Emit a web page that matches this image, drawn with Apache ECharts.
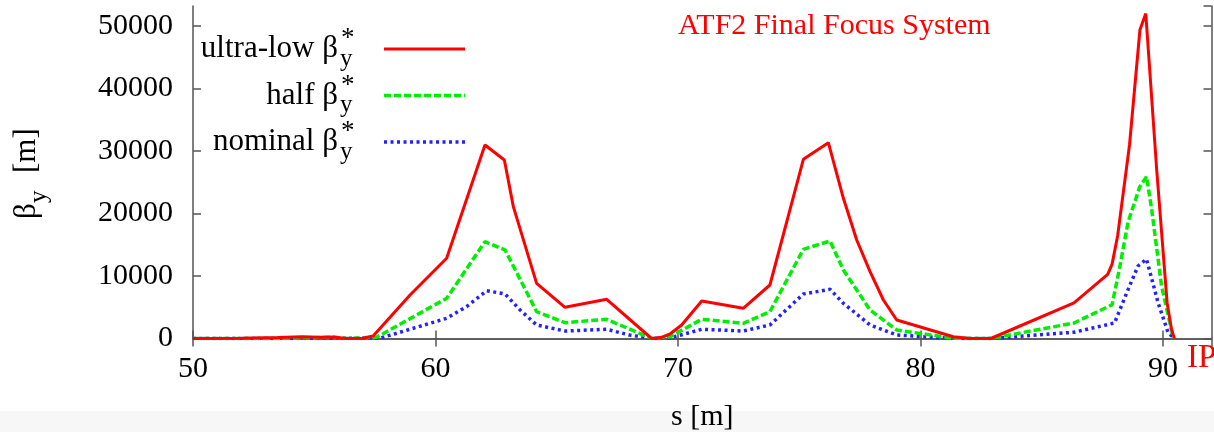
<!DOCTYPE html>
<html>
<head>
<meta charset="utf-8">
<title>ATF2 Final Focus System</title>
<script src="https://cdn.jsdelivr.net/npm/echarts@6/dist/echarts.min.js"></script>
<style>
  html, body { margin: 0; padding: 0; background: #ffffff; }
  #chart { width: 1214px; height: 432px; }
</style>
</head>
<body>
<div id="chart"></div>
<script>
// Vertical beta function along the ATF2 final focus beamline (s in metres)
const sUltra = [50.0, 52.0, 53.5, 54.5, 55.2, 55.8, 56.3, 57.0, 57.43, 58.95, 60.46, 62.04, 62.84, 63.21,
  64.17, 65.34, 67.06, 68.91, 69.3, 69.67, 70.15, 70.98, 72.69, 73.79, 75.17, 76.2, 76.82, 77.37, 77.92,
  78.47, 79.02, 81.35, 82.04, 82.9, 86.33, 87.72, 87.9, 88.13, 88.62, 89.05, 89.29, 89.74, 90.17, 90.35, 90.47];
const betaUltra = [0, 50, 150, 280, 200, 250, 0, 50, 400, 6960, 12830, 30960, 28560, 21100,
  8830, 4990, 6270, 0, 150, 720, 2160, 6000, 4830, 8560, 28670, 31330, 22430, 15760, 10690,
  6160, 2960, 290, 0, 0, 5700, 10250, 11900, 16450, 31000, 49400, 52000, 27000, 5700, 1500, 0];

const sHalf = [50.0, 53.0, 54.5, 55.8, 56.4, 57.57, 60.46, 62.04, 62.87, 64.17, 65.34, 67.06, 68.91,
  69.67, 70.98, 72.69, 73.79, 75.17, 76.27, 76.82, 77.92, 79.02, 81.35, 82.9, 86.33, 87.9, 88.2, 88.56,
  89.04, 89.32, 89.53, 89.94, 90.43];
const betaHalf = [0, 0, 100, 200, 0, 200, 6430, 15490, 14160, 4290, 2530, 3070, 0,
  290, 3070, 2430, 4290, 14270, 15600, 10960, 4560, 1360, 30, 0, 2480, 5400, 11060, 18640,
  24260, 25900, 20750, 8400, 0];

const sNominal = [50.0, 57.7, 60.46, 61.28, 62.11, 62.87, 63.49, 64.17, 65.34, 67.06, 68.0, 68.91,
  69.67, 70.98, 72.69, 73.79, 75.17, 76.27, 76.82, 77.92, 79.02, 81.35, 82.9, 86.33, 88.0, 88.56, 88.97,
  89.32, 89.8, 90.22, 90.5];
const betaNominal = [0, 30, 3230, 5090, 7650, 7120, 4560, 2160, 1200, 1470, 560, 0,
  100, 1470, 1200, 2160, 7120, 7870, 5630, 2160, 560, 0, 0, 1000, 2480, 7820, 11600,
  12700, 5680, 830, 0];

const xTicks = [50, 60, 70, 80, 90];
const yTicks = [0, 10000, 20000, 30000, 40000, 50000];

const serif = "'Liberation Serif', 'DejaVu Serif', serif";
const frame = '#555555';

const pairs = (xs, ys) => xs.map((x, i) => [x, ys[i]]);

const chart = echarts.init(document.getElementById('chart'), null, { renderer: 'canvas' });

const baseX = {
  type: 'value', min: 50, max: 92, interval: 10,
  axisLine: { show: true, lineStyle: { color: frame, width: 1.5 } },
  axisTick: { show: true, inside: true, length: 8, lineStyle: { color: frame, width: 1.5 } },
  splitLine: { show: false }
};
const baseY = {
  type: 'value', min: 0, max: 53200, interval: 10000,
  axisLine: { show: true, lineStyle: { color: frame, width: 1.5 } },
  axisTick: { show: true, inside: true, length: 8, lineStyle: { color: frame, width: 1.5 } },
  splitLine: { show: false }
};

// Legend rows: label text, line colour, dash pattern
const legendRows = [
  { label: 'ultra-low β', color: '#ff0000', dash: 'solid', width: 3 },
  { label: 'half β', color: '#00ee00', dash: [7, 3], width: 3.5 },
  { label: 'nominal β', color: '#2222ff', dash: [3, 3.5], width: 3.5 }
];
const rowY = [49, 95.5, 142];

const legendGraphics = [];
legendRows.forEach((r, i) => {
  const y = rowY[i];
  legendGraphics.push(
    { type: 'text', x: 338, y: y, style: { text: r.label, font: '31px ' + serif, fill: '#000', align: 'right', verticalAlign: 'middle' } },
    { type: 'text', x: 340, y: y + 10, style: { text: 'y', font: '25px ' + serif, fill: '#000', align: 'left', verticalAlign: 'middle' } },
    { type: 'text', x: 341, y: y - 10, style: { text: '*', font: '27px ' + serif, fill: '#000', align: 'left', verticalAlign: 'middle' } },
    { type: 'line', shape: { x1: 384, y1: y, x2: 465, y2: y }, style: { stroke: r.color, lineWidth: r.width, lineDash: r.dash === 'solid' ? null : r.dash } }
  );
});

chart.setOption({
  animation: false,
  backgroundColor: '#ffffff',
  textStyle: { fontFamily: serif },
  title: {
    text: 'ATF2 Final Focus System',
    left: 678, top: 11, padding: 0,
    textStyle: { color: '#ff0000', fontSize: 30, fontWeight: 'normal', fontFamily: serif }
  },
  grid: { left: 193, right: 2.5, top: 6, bottom: 93.5, containLabel: false, outerBoundsMode: 'none' },
  xAxis: [
    Object.assign({}, baseX, {
      position: 'bottom',
      name: 's [m]', nameLocation: 'middle', nameGap: 64,
      nameTextStyle: { fontSize: 30, color: '#000', fontFamily: serif },
      axisLabel: {
        show: true, fontSize: 30, color: '#000', fontFamily: serif, margin: 16,
        showMaxLabel: false,
        formatter: v => (xTicks.includes(v) ? String(v) : '')
      }
    }),
    Object.assign({}, baseX, { position: 'top', axisLabel: { show: false } })
  ],
  yAxis: [
    Object.assign({}, baseY, {
      position: 'left',
      axisLabel: {
        show: true, fontSize: 30, color: '#000', fontFamily: serif, margin: 20,
        showMaxLabel: false,
        formatter: v => (yTicks.includes(v) ? String(v) : '')
      }
    }),
    Object.assign({}, baseY, { position: 'right', axisLabel: { show: false } })
  ],
  series: [
    {
      name: 'ultra-low', type: 'line', data: pairs(sUltra, betaUltra), symbol: 'none', clip: true, z: 4,
      lineStyle: { color: '#ff0000', width: 3, type: 'solid' }
    },
    {
      name: 'half', type: 'line', data: pairs(sHalf, betaHalf), symbol: 'none', clip: true, z: 3,
      lineStyle: { color: '#00ee00', width: 3.5, type: [7, 3] }
    },
    {
      name: 'nominal', type: 'line', data: pairs(sNominal, betaNominal), symbol: 'none', clip: true, z: 2,
      lineStyle: { color: '#2222ff', width: 3.5, type: [3, 3.5] }
    }
  ],
  graphic: [
    // light strip along the bottom edge
    { type: 'rect', z: -10, silent: true, shape: { x: 0, y: 411, width: 1214, height: 21 }, style: { fill: '#f7f7f7' } },
    // vertical axis title: beta_y [m], reading upwards
    {
      type: 'group', x: 27, y: 219, rotation: Math.PI / 2,
      children: [
        { type: 'text', x: 0, y: 0, style: { text: 'β', font: '31px ' + serif, fill: '#000', align: 'left', verticalAlign: 'middle' } },
        { type: 'text', x: 16, y: 12, style: { text: 'y', font: '25px ' + serif, fill: '#000', align: 'left', verticalAlign: 'middle' } },
        { type: 'text', x: 46, y: 0, style: { text: '[m]', font: '31px ' + serif, fill: '#000', align: 'left', verticalAlign: 'middle' } }
      ]
    },
    // interaction point marker at the end of the line
    { type: 'text', x: 1187, y: 358, style: { text: 'IP', font: '33px ' + serif, fill: '#ff0000', align: 'left', verticalAlign: 'middle' } }
  ].concat(legendGraphics)
});
</script>
</body>
</html>
